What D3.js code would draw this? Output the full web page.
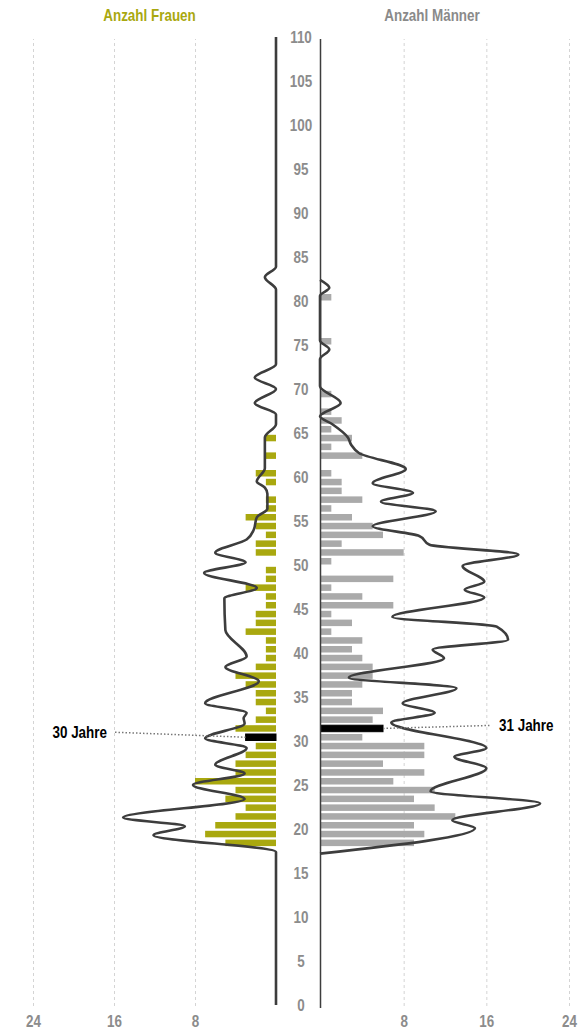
<!DOCTYPE html>
<html><head><meta charset="utf-8">
<script src="https://cdn.jsdelivr.net/npm/d3@7/dist/d3.min.js"></script>
<style>
body{margin:0;background:#fff}
text{font-family:"Liberation Sans",Arial,sans-serif;font-weight:bold;}
</style>
</head><body>
<svg id="chart" width="588" height="1033"></svg>
<script>
// ---- data ----
const womenAges   = [18,19,20,21,22,23,24,25,26,27,28,29,30,31,32,33,34,35,36,37,38,39,40,41,42,43,44,45,46,47,48,49,51,52,53,54,55,56,57,59,60,62,64];
const womenCounts = [ 5, 7, 6, 4, 3, 5, 4, 8, 4, 4, 3, 2, 3, 4, 2, 1, 2, 2, 3, 4, 2, 1, 1, 1, 3, 2, 2, 1, 1, 3, 1, 1, 2, 2, 1, 2, 3, 1, 1, 1, 2, 1, 1];
const menAges   = [18,19,20,21,22,23,24,25,26,27,28,29,30,31,32,33,34,35,36,37,38,39,40,41,42,43,44,45,46,47,48,50,51,52,53,54,55,56,57,58,59,60,62,63,64,65,66,67,69,75,80];
const menCounts = [ 9,10, 9,13,11, 9,11, 7,10, 6,10,10, 4, 6, 5, 6, 3, 3, 4, 5, 5, 4, 3, 4, 1, 3, 1, 7, 4, 1, 7, 1, 8, 2, 6, 5, 3, 1, 4, 2, 2, 1, 4, 1, 3, 1, 2, 1, 1, 1, 1];
const highlightWoman = 30;
const highlightMan = 31;
// smoothed line (age, value)
const womenLineAges = [110,83.9,82.7,81.3,72.8,71.3,70.0,68.4,67.1,66.0,64.5,61.0,59.5,58.8,58.1,56.4,55.4,54.0,52.9,51.4,50.3,49.1,47.4,46.2,42.6,39.6,38.4,36.8,34.3,33.2,32.6,32.0,30.3,29.2,27.3,26.3,25.0,23.4,21.3,20.3,19.3,17.4,0];
const womenLineVals = [  0,   0, 1.1,   0,   0, 2.1,   0, 2.1,   0,   0, 1.1, 1.1, 1.9, 1.1,0.85,0.85, 1.9, 2.2, 2.9, 6.0, 3.0, 7.1, 1.9, 5.1, 5.0, 2.9, 5.0, 1.7, 7.0, 2.9, 3.2, 3.1, 7.0, 2.9, 6.0, 3.1, 8.2, 3.1,15.1, 9.0,12.1,   0, 0];
const menLineAges = [82.4,81.5,80.6,75.5,74.5,73.4,70.3,68.4,66.9,66.0,64.5,63.7,62.7,60.9,59.3,58.2,57.2,56.1,54.4,53.3,52.3,51.2,49.9,48.1,47.2,46.3,44.1,43.0,41.5,40.4,39.4,37.2,36.0,34.3,33.2,32.1,29.2,28.2,26.9,24.3,22.9,21.0,20.1,17.2];
const menLineVals = [   0, 0.9,   0,   0, 0.9,   0,   0, 2.0,   0, 1.2, 2.7, 3.0, 3.8, 8.3, 5.1, 9.0, 5.9,11.2, 5.1, 9.6,10.6,19.2,13.8,15.9,14.0,15.9, 7.0,17.1,18.2,10.9,12.0, 2.8,13.2, 8.0,11.1, 6.9,16.1,13.0,16.1,10.7,21.3,12.8,15.0,   0];
const ageTicks = [0,5,10,15,20,25,30,35,40,45,50,55,60,65,70,75,80,85,90,95,100,105,110];
const countTicks = [8,16,24];
const titleWomen = "Anzahl Frauen", titleMen = "Anzahl Männer";

// ---- style ----
const OLIVE = "#a9a80f", GRAY = "#aaaaaa", LINE = "#3d3d3d", TXT = "#8c8c8c";
const NARROW = "scale(0.84,1)", FS = "16px";

const svg = d3.select("#chart");
const y  = d3.scaleLinear().domain([0,110]).range([1005,37]);
const xL = d3.scaleLinear().domain([0,24]).range([276,33]);
const xR = d3.scaleLinear().domain([0,24]).range([321,569]);
const gridTop = 39, gridBot = 1006;

function label(x, yy, str, anchor, fill){
  svg.append("g").attr("transform",`translate(${x},${yy})`)
    .append("text").attr("transform",NARROW).attr("text-anchor",anchor)
    .attr("fill",fill).style("font-size",FS).text(str);
}

// grid + bottom tick labels via axes
function gridAxis(scale){
  const g = svg.append("g").attr("transform",`translate(0,${gridBot})`)
    .call(d3.axisBottom(scale).tickValues(countTicks).tickSize(-(gridBot-gridTop)).tickPadding(10).tickFormat(d3.format("d")));
  g.select(".domain").remove();
  g.selectAll(".tick line").attr("stroke","#d4d4d4").attr("stroke-width",1).attr("stroke-dasharray","3,3");
  g.selectAll(".tick text").attr("fill",TXT).style("font-size",FS).attr("dy","0.71em").attr("transform",NARROW);
}
gridAxis(xL); gridAxis(xR);

// bars
const band = a => ({top: y(a+1)+1.8, h: y(a)-y(a+1)-2.3});
svg.append("g").selectAll("rect").data(womenAges).join("rect")
  .attr("x",(a,i)=>xL(womenCounts[i])).attr("width",(a,i)=>xL(0)-xL(womenCounts[i]))
  .attr("y",a=>band(a).top).attr("height",a=>band(a).h)
  .attr("fill",a=>a===highlightWoman?"#000":OLIVE)
  .attr("stroke",a=>a===highlightWoman?"#000":"none").attr("stroke-width",1);
svg.append("g").selectAll("rect").data(menAges).join("rect")
  .attr("x",xR(0)).attr("width",(a,i)=>xR(menCounts[i])-xR(0))
  .attr("y",a=>band(a).top).attr("height",a=>band(a).h)
  .attr("fill",a=>a===highlightMan?"#000":GRAY)
  .attr("stroke",a=>a===highlightMan?"#000":"none").attr("stroke-width",1);

// right axis line
svg.append("line").attr("x1",xR(0)-0.5).attr("x2",xR(0)-0.5).attr("y1",gridTop).attr("y2",gridBot+2)
  .attr("stroke",LINE).attr("stroke-width",1.5);

// smooth lines
const lineL = d3.line().x(d=>xL(d[1])).y(d=>y(d[0])).curve(d3.curveMonotoneY);
const lineR = d3.line().x(d=>xR(d[1])-1).y(d=>y(d[0])).curve(d3.curveMonotoneY);
svg.append("path").datum(womenLineAges.map((a,i)=>[a,womenLineVals[i]]))
  .attr("d",lineL).attr("fill","none").attr("stroke",LINE).attr("stroke-width",2.6);
svg.append("path").datum(menLineAges.map((a,i)=>[a,menLineVals[i]]))
  .attr("d",lineR).attr("fill","none").attr("stroke",LINE).attr("stroke-width",2.6);

// age axis labels
const ageAxis = svg.append("g").attr("transform","translate(301,0)")
  .call(d3.axisLeft(y).tickValues(ageTicks).tickSize(0).tickPadding(0));
ageAxis.select(".domain").remove();
ageAxis.selectAll(".tick text").attr("x",0).attr("text-anchor","middle").attr("dy","0.36em")
  .attr("fill",TXT).style("font-size",FS).attr("transform",NARROW);

// titles
label(149.5, 20.5, titleWomen, "middle", OLIVE);
label(432, 20.5, titleMen, "middle", "#8a8a8a");

// annotations
const wIdx = womenAges.indexOf(highlightWoman), mIdx = menAges.indexOf(highlightMan);
const wy = band(highlightWoman).top + band(highlightWoman).h/2;
const my = band(highlightMan).top + band(highlightMan).h/2;
svg.append("line").attr("x1",115).attr("y1",wy-5).attr("x2",xL(womenCounts[wIdx])).attr("y2",wy)
  .attr("stroke","#777").attr("stroke-width",1.5).attr("stroke-dasharray","1.5,2");
label(107, wy-5+5.8, highlightWoman+" Jahre", "end", "#000");
svg.append("line").attr("x1",xR(menCounts[mIdx])).attr("y1",my).attr("x2",490).attr("y2",my-3)
  .attr("stroke","#777").attr("stroke-width",1.5).attr("stroke-dasharray","1.5,2");
label(499, my-3+5.8, highlightMan+" Jahre", "start", "#000");
</script>
</body></html>
